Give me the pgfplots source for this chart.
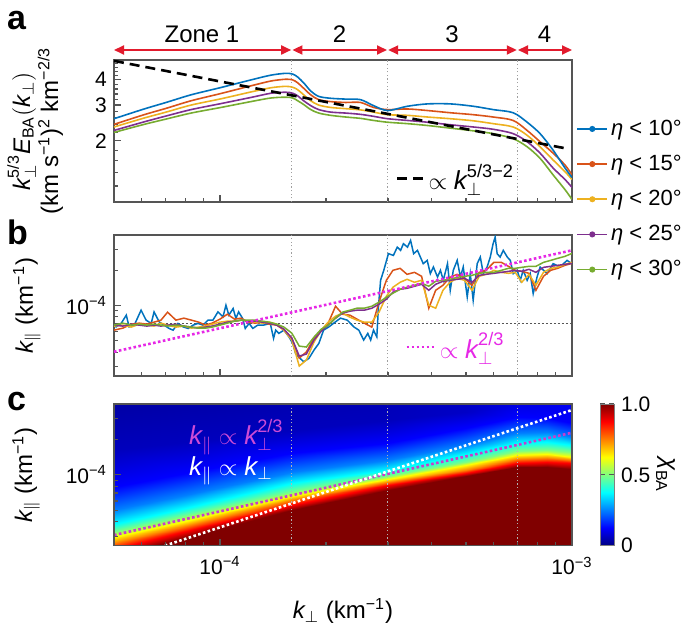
\documentclass[border=0pt]{standalone}
\usepackage{fontspec}
\setmainfont{Liberation Sans}
\usepackage{amsmath}
\usepackage{pgfplots}
\usepackage{pgfplotstable}
\pgfplotsset{compat=1.18}
\usetikzlibrary{arrows.meta}

\definecolor{cB}{RGB}{0,114,189}
\definecolor{cO}{RGB}{217,83,25}
\definecolor{cY}{RGB}{237,177,32}
\definecolor{cP}{RGB}{126,47,142}
\definecolor{cG}{RGB}{119,172,48}
\definecolor{zred}{RGB}{226,27,45}
\definecolor{mag}{RGB}{230,40,230}
\definecolor{mag2}{RGB}{200,60,205}
\definecolor{magt}{RGB}{205,75,215}
\definecolor{axgray}{RGB}{85,85,85}

\newcommand{\tfs}{\fontsize{10.5}{12}\selectfont}
\newcommand{\lfs}{\fontsize{12}{14}\selectfont}
\newcommand{\kp}{\textit{k}_{\perp}}
\newcommand{\kl}{\textit{k}_{\|}}

\pgfplotstableread{
k b o y p g
5.0e-5 2.57 2.41 2.34 2.25 2.20
6.09e-5 2.87 2.69 2.59 2.48 2.41
7.03e-5 3.09 2.89 2.77 2.65 2.56
8.28e-5 3.37 3.15 3.00 2.85 2.74
1.006e-4 3.66 3.42 3.22 3.05 2.92
1.224e-4 3.99 3.73 3.48 3.27 3.12
1.395e-4 4.21 3.94 3.65 3.43 3.25
1.538e-4 4.30 4.02 3.71 3.47 3.28
1.61e-4 4.26 3.99 3.67 3.43 3.25
1.663e-4 4.12 3.86 3.57 3.33 3.15
1.729e-4 3.86 3.63 3.37 3.15 3.02
1.811e-4 3.52 3.37 3.15 2.98 2.85
1.908e-4 3.31 3.19 3.00 2.85 2.74
2.063e-4 3.24 3.12 2.92 2.77 2.67
2.275e-4 3.21 3.09 2.88 2.74 2.62
2.508e-4 3.19 3.09 2.84 2.70 2.58
2.732e-4 2.98 2.92 2.77 2.64 2.52
2.992e-4 2.82 2.85 2.69 2.57 2.47
3.41e-4 2.96 2.87 2.67 2.52 2.43
3.884e-4 3.04 2.82 2.62 2.47 2.38
4.512e-4 3.04 2.75 2.57 2.40 2.31
5.243e-4 2.96 2.69 2.51 2.34 2.24
5.973e-4 2.85 2.62 2.43 2.28 2.17
6.806e-4 2.75 2.52 2.34 2.17 2.05
7.458e-4 2.47 2.25 2.13 1.98 1.87
8.116e-4 2.17 1.98 1.87 1.74 1.64
8.838e-4 1.80 1.74 1.61 1.47 1.36
9.555e-4 1.47 1.52 1.41 1.29 1.15
1.0e-3 1.32 1.36 1.29 1.18 1.03
}\tabA

\pgfplotstableread{
k o y p g
5.0e-5 0.616e-4 0.667e-4 0.680e-4 0.680e-4
5.3e-5 0.641e-4 0.680e-4 0.667e-4 0.707e-4
5.6e-5 0.693e-4 0.654e-4 0.693e-4 0.680e-4
5.9e-5 0.707e-4 0.693e-4 0.680e-4 0.693e-4
6.2e-5 0.693e-4 0.680e-4 0.667e-4 0.680e-4
6.5e-5 0.721e-4 0.667e-4 0.680e-4 0.693e-4
6.8e-5 0.750e-4 0.707e-4 0.667e-4 0.680e-4
7.1e-5 0.877e-4 0.680e-4 0.680e-4 0.667e-4
7.5e-5 0.750e-4 0.654e-4 0.693e-4 0.680e-4
7.9e-5 0.780e-4 0.667e-4 0.667e-4 0.667e-4
8.3e-5 0.750e-4 0.641e-4 0.654e-4 0.654e-4
8.7e-5 0.721e-4 0.654e-4 0.641e-4 0.641e-4
9.1e-5 0.680e-4 0.667e-4 0.654e-4 0.641e-4
9.5e-5 0.707e-4 0.693e-4 0.667e-4 0.654e-4
1.0e-4 0.765e-4 0.721e-4 0.693e-4 0.680e-4
1.05e-4 0.843e-4 0.735e-4 0.721e-4 0.707e-4
1.1e-4 0.765e-4 0.735e-4 0.735e-4 0.735e-4
1.15e-4 0.780e-4 0.750e-4 0.750e-4 0.750e-4
1.2e-4 0.721e-4 0.735e-4 0.735e-4 0.750e-4
1.26e-4 0.707e-4 0.721e-4 0.735e-4 0.750e-4
1.32e-4 0.721e-4 0.707e-4 0.721e-4 0.735e-4
1.38e-4 0.693e-4 0.721e-4 0.707e-4 0.721e-4
1.45e-4 0.680e-4 0.693e-4 0.680e-4 0.693e-4
1.52e-4 0.616e-4 0.616e-4 0.628e-4 0.654e-4
1.6e-4 0.527e-4 0.507e-4 0.527e-4 0.581e-4
1.68e-4 0.356e-4 0.304e-4 0.370e-4 0.450e-4
1.76e-4 0.401e-4 0.342e-4 0.385e-4 0.442e-4
1.85e-4 0.527e-4 0.487e-4 0.507e-4 0.537e-4
1.94e-4 0.616e-4 0.616e-4 0.604e-4 0.628e-4
2.03e-4 0.707e-4 0.721e-4 0.680e-4 0.680e-4
2.13e-4 0.986e-4 0.811e-4 0.780e-4 0.780e-4
2.23e-4 0.843e-4 0.860e-4 0.860e-4 0.877e-4
2.34e-4 0.827e-4 0.795e-4 0.894e-4 0.912e-4
2.45e-4 0.765e-4 0.750e-4 0.912e-4 0.948e-4
2.57e-4 0.707e-4 0.721e-4 0.912e-4 0.948e-4
2.7e-4 0.654e-4 0.721e-4 0.948e-4 0.986e-4
2.83e-4 1.067e-4 0.877e-4 1.026e-4 1.067e-4
2.97e-4 1.642e-4 1.200e-4 1.131e-4 1.177e-4
3.1e-4 1.997e-4 1.431e-4 1.298e-4 1.273e-4
3.25e-4 2.077e-4 1.579e-4 1.376e-4 1.376e-4
3.4e-4 1.846e-4 1.674e-4 1.403e-4 1.431e-4
3.57e-4 1.920e-4 1.579e-4 1.460e-4 1.489e-4
3.74e-4 1.776e-4 1.642e-4 1.518e-4 1.548e-4
3.92e-4 0.948e-4 1.006e-4 1.349e-4 1.460e-4
4.1e-4 1.349e-4 0.948e-4 1.518e-4 1.610e-4
4.3e-4 1.489e-4 1.349e-4 1.610e-4 1.642e-4
4.5e-4 1.741e-4 1.579e-4 1.642e-4 1.674e-4
4.72e-4 1.846e-4 1.708e-4 1.674e-4 1.741e-4
4.95e-4 1.708e-4 1.642e-4 1.708e-4 1.776e-4
5.2e-4 1.489e-4 1.349e-4 1.579e-4 1.811e-4
5.45e-4 1.920e-4 1.776e-4 1.811e-4 1.883e-4
5.7e-4 1.997e-4 1.846e-4 1.846e-4 1.920e-4
6.0e-4 2.336e-4 1.997e-4 1.883e-4 1.920e-4
6.3e-4 2.336e-4 1.920e-4 1.920e-4 1.997e-4
6.6e-4 2.160e-4 1.883e-4 1.958e-4 2.077e-4
6.9e-4 1.997e-4 1.920e-4 1.997e-4 2.077e-4
7.2e-4 1.958e-4 1.579e-4 1.958e-4 2.118e-4
7.55e-4 1.883e-4 1.846e-4 2.037e-4 2.160e-4
7.9e-4 1.349e-4 1.489e-4 1.920e-4 2.160e-4
8.3e-4 1.776e-4 1.920e-4 2.118e-4 2.336e-4
8.7e-4 1.997e-4 2.077e-4 2.160e-4 2.429e-4
9.1e-4 2.077e-4 2.118e-4 2.203e-4 2.527e-4
9.55e-4 2.203e-4 2.246e-4 2.246e-4 2.628e-4
1.0e-3 2.291e-4 2.336e-4 2.291e-4 2.787e-4
}\tabB

\pgfplotstableread{
k v
5.0e-5 0.680e-4
5.07e-5 0.657e-4
5.24e-5 0.703e-4
5.42e-5 0.827e-4
5.52e-5 0.657e-4
5.71e-5 0.680e-4
5.97e-5 0.912e-4
6.17e-5 0.750e-4
6.38e-5 0.703e-4
6.50e-5 0.882e-4
6.72e-5 0.725e-4
6.94e-5 0.680e-4
7.17e-5 0.637e-4
7.36e-5 0.616e-4
7.60e-5 0.703e-4
7.86e-5 0.657e-4
8.12e-5 0.637e-4
8.39e-5 0.680e-4
8.66e-5 0.703e-4
8.95e-5 0.680e-4
9.25e-5 0.750e-4
9.55e-5 0.750e-4
9.87e-5 0.882e-4
1.02e-4 0.800e-4
1.04e-4 1.006e-4
1.06e-4 0.827e-4
1.09e-4 0.943e-4
1.11e-4 0.775e-4
1.13e-4 0.882e-4
1.16e-4 0.775e-4
1.18e-4 0.637e-4
1.21e-4 0.703e-4
1.24e-4 0.637e-4
1.28e-4 0.680e-4
1.33e-4 0.680e-4
1.39e-4 0.703e-4
1.42e-4 0.524e-4
1.44e-4 0.616e-4
1.47e-4 0.578e-4
1.52e-4 0.616e-4
1.57e-4 0.540e-4
1.61e-4 0.475e-4
1.64e-4 0.390e-4
1.67e-4 0.365e-4
1.73e-4 0.331e-4
1.79e-4 0.354e-4
1.85e-4 0.416e-4
1.91e-4 0.475e-4
1.97e-4 0.616e-4
2.04e-4 0.657e-4
2.10e-4 0.703e-4
2.20e-4 0.780e-4
2.30e-4 0.750e-4
2.40e-4 0.657e-4
2.48e-4 0.616e-4
2.56e-4 0.507e-4
2.63e-4 0.578e-4
2.68e-4 0.507e-4
2.73e-4 0.616e-4
2.79e-4 0.540e-4
2.82e-4 0.973e-4
2.86e-4 1.642e-4
2.92e-4 1.997e-4
3.01e-4 2.771e-4
3.11e-4 2.680e-4
3.19e-4 3.153e-4
3.26e-4 2.956e-4
3.32e-4 3.371e-4
3.41e-4 3.153e-4
3.48e-4 3.595e-4
3.55e-4 2.771e-4
3.64e-4 2.956e-4
3.71e-4 2.592e-4
3.78e-4 2.277e-4
3.88e-4 2.429e-4
3.96e-4 1.872e-4
4.04e-4 2.131e-4
4.15e-4 1.752e-4
4.23e-4 1.997e-4
4.31e-4 1.642e-4
4.43e-4 2.277e-4
4.51e-4 1.349e-4
4.60e-4 1.997e-4
4.72e-4 2.429e-4
4.82e-4 1.752e-4
4.91e-4 2.131e-4
5.04e-4 1.184e-4
5.14e-4 1.872e-4
5.24e-4 1.109e-4
5.38e-4 2.277e-4
5.49e-4 2.592e-4
5.60e-4 1.872e-4
5.74e-4 2.131e-4
5.86e-4 2.592e-4
5.97e-4 3.371e-4
6.05e-4 3.835e-4
6.13e-4 2.771e-4
6.25e-4 2.592e-4
6.38e-4 2.956e-4
6.55e-4 2.592e-4
6.68e-4 2.429e-4
6.81e-4 1.872e-4
6.99e-4 1.997e-4
7.13e-4 1.642e-4
7.27e-4 1.997e-4
7.46e-4 1.642e-4
7.61e-4 1.872e-4
7.76e-4 1.265e-4
7.96e-4 1.752e-4
8.12e-4 2.131e-4
8.50e-4 1.872e-4
8.84e-4 2.277e-4
9.25e-4 2.131e-4
9.68e-4 2.429e-4
1.0e-3 2.277e-4
}\tabBlue

\pgfplotstableread{
x y c
5e-5 1e-5 1
8e-5 1e-5 1
1.6e-4 1e-5 1
3e-4 1e-5 1
5e-4 1e-5 1
7e-4 1e-5 1
8.5e-4 1e-5 1
1e-3 1e-5 1
5e-5 2.05e-5 1
8e-5 2.93e-5 1
1.6e-4 5.03e-5 1
3e-4 7.43e-5 1
5e-4 9.78e-5 1
7e-4 1.166e-4 1
8.5e-4 1.166e-4 1
1e-3 1.12e-4 1
5e-5 2.34e-5 0.875
8e-5 3.31e-5 0.875
1.6e-4 5.54e-5 0.875
3e-4 8.20e-5 0.875
5e-4 1.04e-4 0.875
7e-4 1.26e-4 0.875
8.5e-4 1.29e-4 0.875
1e-3 1.26e-4 0.875
5e-5 2.64e-5 0.75
8e-5 3.69e-5 0.75
1.6e-4 6.11e-5 0.75
3e-4 8.70e-5 0.75
5e-4 1.10e-4 0.75
7e-4 1.36e-4 0.75
8.5e-4 1.39e-4 0.75
1e-3 1.35e-4 0.75
5e-5 2.97e-5 0.625
8e-5 4.09e-5 0.625
1.6e-4 6.61e-5 0.625
3e-4 9.22e-5 0.625
5e-4 1.21e-4 0.625
7e-4 1.47e-4 0.625
8.5e-4 1.50e-4 0.625
1e-3 1.43e-4 0.625
5e-5 3.27e-5 0.5
8e-5 4.48e-5 0.5
1.6e-4 7.19e-5 0.5
3e-4 9.78e-5 0.5
5e-4 1.29e-4 0.5
7e-4 1.59e-4 0.5
8.5e-4 1.63e-4 0.5
1e-3 1.57e-4 0.5
5e-5 3.82e-5 0.375
8e-5 5.26e-5 0.375
1.6e-4 8.48e-5 0.375
3e-4 1.10e-4 0.375
5e-4 1.49e-4 0.375
7e-4 1.87e-4 0.375
8.5e-4 1.90e-4 0.375
1e-3 1.79e-4 0.375
5e-5 5.03e-5 0.25
8e-5 6.78e-5 0.25
1.6e-4 1.064e-4 0.25
3e-4 1.34e-4 0.25
5e-4 1.79e-4 0.25
7e-4 2.27e-4 0.25
8.5e-4 2.31e-4 0.25
1e-3 2.11e-4 0.25
5e-5 7.88e-5 0.125
8e-5 1.027e-4 0.125
1.6e-4 1.52e-4 0.125
3e-4 1.87e-4 0.125
5e-4 2.50e-4 0.125
7e-4 3.10e-4 0.125
8.5e-4 3.04e-4 0.125
1e-3 2.76e-4 0.125
5e-5 1.63e-4 0.06
8e-5 1.90e-4 0.06
1.6e-4 2.40e-4 0.06
3e-4 2.92e-4 0.06
5e-4 3.42e-4 0.07
7e-4 3.92e-4 0.10
8.5e-4 3.92e-4 0.105
1e-3 3.70e-4 0.115
5e-5 8e-4 0.02
8e-5 8e-4 0.025
1.6e-4 8e-4 0.035
3e-4 8e-4 0.045
5e-4 8e-4 0.06
7e-4 8e-4 0.09
8.5e-4 8e-4 0.10
1e-3 8e-4 0.11
}\tabC

\begin{document}
\begin{tikzpicture}
\path[use as bounding box] (0,0) rectangle (342.5pt,-315pt);

% ---------------- panel a
\begin{axis}[
  at={(57pt,-30pt)}, anchor=north west,
  scale only axis, width=229pt, height=71pt,
  xmode=log, ymode=log,
  xmin=5e-5, xmax=1e-3, ymin=1, ymax=5,
  xtick={1e-4,1e-3}, xticklabels={},
  minor xtick={6e-5,7e-5,8e-5,9e-5,2e-4,3e-4,4e-4,5e-4,6e-4,7e-4,8e-4,9e-4},
  ytick={2,3,4}, yticklabels={2,3,4},
  minor ytick={1.2,1.4,1.6,1.8,2.2,2.4,2.6,2.8,3.2,3.4,3.6,3.8,4.2,4.4,4.6,4.8},
  tick align=inside, tick pos=left,
  major tick length=3.5pt, minor tick length=2pt,
  axis line style={axgray, line width=0.6pt},
  every tick/.append style={axgray, line width=0.6pt},
  every tick label/.append style={font=\tfs},
  ylabel={$\kp^{\text{5/3}}\textit{E}_{\text{BA}}(\kp)$\\(km s$^{\text{−1}}$)$^{\text{2}}$ km$^{\text{−2/3}}$},
  every axis y label/.style={at={(axis description cs:-0.172,0.5)}, anchor=center, rotate=90, align=center, font=\lfs},
  legend style={at={(axis description cs:0.615,0.165)}, anchor=west, draw=none, fill=none,
    font=\fontsize{13}{15}\selectfont, inner sep=0pt},
  legend image code/.code={\draw[#1] (0pt,0pt) -- (13pt,0pt);},
]
\addplot[gray!75, line width=0.5pt, dash pattern=on 0.6pt off 1.2pt, forget plot] coordinates {(1.6e-4,1) (1.6e-4,5)};
\addplot[gray!75, line width=0.5pt, dash pattern=on 0.6pt off 1.2pt, forget plot] coordinates {(3e-4,1) (3e-4,5)};
\addplot[gray!75, line width=0.5pt, dash pattern=on 0.6pt off 1.2pt, forget plot] coordinates {(7e-4,1) (7e-4,5)};
\addplot[cG, line width=0.8pt, smooth, forget plot] table[x=k,y=g]{\tabA};
\addplot[cP, line width=0.8pt, smooth, forget plot] table[x=k,y=p]{\tabA};
\addplot[cY, line width=0.8pt, smooth, forget plot] table[x=k,y=y]{\tabA};
\addplot[cO, line width=0.8pt, smooth, forget plot] table[x=k,y=o]{\tabA};
\addplot[cB, line width=0.8pt, smooth, forget plot] table[x=k,y=b]{\tabA};
\addplot[black, line width=1.3pt, dash pattern=on 5pt off 3pt] coordinates {(5e-5,4.95) (9.7e-4,1.83)};
\addlegendentry{$\propto \kp^{\text{5/3−2}}$}
\end{axis}

% zone arrows (annotation)
\begin{scope}[zred, line width=0.9pt]
\draw[{Triangle[length=5pt,width=4.5pt]}-{Triangle[length=5pt,width=4.5pt]}] (57pt,-25pt) -- (145.6pt,-25pt);
\draw[{Triangle[length=5pt,width=4.5pt]}-{Triangle[length=5pt,width=4.5pt]}] (146.2pt,-25pt) -- (193.5pt,-25pt);
\draw[{Triangle[length=5pt,width=4.5pt]}-{Triangle[length=5pt,width=4.5pt]}] (194.1pt,-25pt) -- (258.4pt,-25pt);
\draw[{Triangle[length=5pt,width=4.5pt]}-{Triangle[length=5pt,width=4.5pt]}] (259pt,-25pt) -- (286pt,-25pt);
\end{scope}
\node[font=\lfs, anchor=base] at (101pt,-21.5pt) {Zone 1};
\node[font=\lfs, anchor=base] at (169.75pt,-21.5pt) {2};
\node[font=\lfs, anchor=base] at (226pt,-21.5pt) {3};
\node[font=\lfs, anchor=base] at (272.25pt,-21.5pt) {4};

% ---------------- panel b
\begin{axis}[
  at={(57pt,-117.5pt)}, anchor=north west,
  scale only axis, width=229pt, height=70.5pt,
  xmode=log, ymode=log,
  xmin=5e-5, xmax=1e-3, ymin=2.5e-5, ymax=4e-4,
  xtick={1e-4,1e-3}, xticklabels={},
  minor xtick={6e-5,7e-5,8e-5,9e-5,2e-4,3e-4,4e-4,5e-4,6e-4,7e-4,8e-4,9e-4},
  ytick={1e-4}, yticklabels={{10\textsuperscript{−4}}},
  minor ytick={3e-5,4e-5,5e-5,6e-5,7e-5,8e-5,9e-5,2e-4,3e-4},
  tick align=inside, tick pos=left,
  major tick length=3.5pt, minor tick length=2pt,
  axis line style={axgray, line width=0.6pt},
  every tick/.append style={axgray, line width=0.6pt},
  every tick label/.append style={font=\tfs},
  ylabel={$\kl$ (km$^{\text{−1}}$)},
  every axis y label/.style={at={(axis description cs:-0.19,0.5)}, anchor=center, rotate=90, font=\lfs},
  legend style={at={(axis description cs:0.635,0.206)}, anchor=west, draw=none, fill=none,
    font=\fontsize{13}{15}\selectfont, text=mag, inner sep=0pt},
  legend image code/.code={\draw[#1] (0pt,0pt) -- (14pt,0pt);},
]
\addplot[gray!75, line width=0.5pt, dash pattern=on 0.6pt off 1.2pt, forget plot] coordinates {(1.6e-4,2.5e-5) (1.6e-4,4e-4)};
\addplot[gray!75, line width=0.5pt, dash pattern=on 0.6pt off 1.2pt, forget plot] coordinates {(3e-4,2.5e-5) (3e-4,4e-4)};
\addplot[gray!75, line width=0.5pt, dash pattern=on 0.6pt off 1.2pt, forget plot] coordinates {(7e-4,2.5e-5) (7e-4,4e-4)};
\addplot[axgray, line width=0.7pt, dash pattern=on 0.8pt off 1.2pt, forget plot] coordinates {(5e-5,7e-5) (1e-3,7e-5)};
\addplot[cB, line width=0.75pt, forget plot] table[x=k,y=v]{\tabBlue};
\addplot[cO, line width=0.75pt, forget plot] table[x=k,y=o]{\tabB};
\addplot[cY, line width=0.75pt, forget plot] table[x=k,y=y]{\tabB};
\addplot[cP, line width=0.75pt, forget plot] table[x=k,y=p]{\tabB};
\addplot[cG, line width=0.75pt, forget plot] table[x=k,y=g]{\tabB};
\addplot[mag, line width=1.3pt, dash pattern=on 1.3pt off 1.2pt] coordinates {(5e-5,4.03e-5) (1e-3,2.96e-4)};
\addlegendentry{$\propto \kp^{\text{2/3}}$}
\end{axis}

% ---------------- panel c
\begin{axis}[
  at={(57pt,-202pt)}, anchor=north west,
  scale only axis, width=229pt, height=70.85pt,
  xmode=log, ymode=log,
  xmin=5e-5, xmax=1e-3, ymin=2.5e-5, ymax=4e-4,
  xtick={1e-4,1e-3}, xticklabels={{10\textsuperscript{−4}},{10\textsuperscript{−3}}},
  minor xtick={6e-5,7e-5,8e-5,9e-5,2e-4,3e-4,4e-4,5e-4,6e-4,7e-4,8e-4,9e-4},
  ytick={1e-4}, yticklabels={{10\textsuperscript{−4}}},
  minor ytick={3e-5,4e-5,5e-5,6e-5,7e-5,8e-5,9e-5,2e-4,3e-4},
  tick align=inside, tick pos=left,
  major tick length=3.5pt, minor tick length=2pt,
  axis line style={axgray, line width=0.6pt},
  every tick/.append style={axgray, line width=0.6pt},
  every tick label/.append style={font=\tfs},
  xticklabel style={yshift=-2pt},
  axis on top,
  xlabel={$\kp$ (km$^{\text{−1}}$)},
  every axis x label/.style={at={(axis description cs:0.5,-0.461)}, anchor=center, font=\lfs},
  ylabel={$\kl$ (km$^{\text{−1}}$)},
  every axis y label/.style={at={(axis description cs:-0.192,0.5)}, anchor=center, rotate=90, font=\lfs},
  colormap/jet, point meta min=0, point meta max=1,
  colorbar,
  colorbar style={
    at={(parent axis.north east)}, anchor=north west, xshift=5.5pt,
    width=7pt,
    ytick={0,0.5,1}, yticklabels={0,0.5,1.0},
    yticklabel style={font=\tfs},
    ylabel={$\textit{χ}_{\text{BA}}$},
    ylabel style={rotate=180, font=\lfs},
    ylabel shift=-4pt,
    axis line style={gray, line width=0.5pt},
    major tick length=2.5pt,
  },
  legend style={at={(axis description cs:1.009,3.03)}, anchor=north west, draw=none, fill=none,
    font=\fontsize{11}{13}\selectfont, row sep=5.4pt, inner sep=0pt, nodes={inner sep=1.5pt}},
  legend cell align=left,
  legend image code/.code={\draw[#1] (0pt,0pt) -- (15pt,0pt); \fill[#1] (7.5pt,0pt) circle (1.1pt);},
]
\addplot[surf, shader=interp, mesh/rows=11, mesh/cols=8, point meta=explicit, forget plot] table[x=x, y=y, meta=c]{\tabC};
\addplot[gray!60, line width=0.5pt, dash pattern=on 0.6pt off 1.2pt, forget plot] coordinates {(1.6e-4,2.5e-5) (1.6e-4,4e-4)};
\addplot[gray!60, line width=0.5pt, dash pattern=on 0.6pt off 1.2pt, forget plot] coordinates {(3e-4,2.5e-5) (3e-4,4e-4)};
\addplot[gray!60, line width=0.5pt, dash pattern=on 0.6pt off 1.2pt, forget plot] coordinates {(7e-4,2.5e-5) (7e-4,4e-4)};
\addplot[mag2, line width=1.3pt, dash pattern=on 1.3pt off 1.2pt, forget plot] coordinates {(5e-5,3.08e-5) (1e-3,2.28e-4)};
\addplot[white, line width=1.3pt, dash pattern=on 1.3pt off 1.2pt, forget plot] coordinates {(6.98e-5,2.5e-5) (1e-3,3.56e-4)};
\addlegendimage{cB, line width=0.8pt}\addlegendentry{\textit{η} < 10°}
\addlegendimage{cO, line width=0.8pt}\addlegendentry{\textit{η} < 15°}
\addlegendimage{cY, line width=0.8pt}\addlegendentry{\textit{η} < 20°}
\addlegendimage{cP, line width=0.8pt}\addlegendentry{\textit{η} < 25°}
\addlegendimage{cG, line width=0.8pt}\addlegendentry{\textit{η} < 30°}
\end{axis}

\node[anchor=west, text=magt, font=\fontsize{13}{15}\selectfont] at (91pt,-218.5pt) {$\kl\propto\kp^{\text{2/3}}$};
\node[anchor=west, text=white, font=\fontsize{13}{15}\selectfont] at (91pt,-235.5pt) {$\kl\propto\kp$};

\node[anchor=base west, font=\bfseries\fontsize{17}{17}\selectfont] at (0pt,-15pt) {a};
\node[anchor=base west, font=\bfseries\fontsize{17}{17}\selectfont] at (0pt,-122.5pt) {b};
\node[anchor=base west, font=\bfseries\fontsize{17}{17}\selectfont] at (0pt,-205pt) {c};
\end{tikzpicture}
\end{document}
